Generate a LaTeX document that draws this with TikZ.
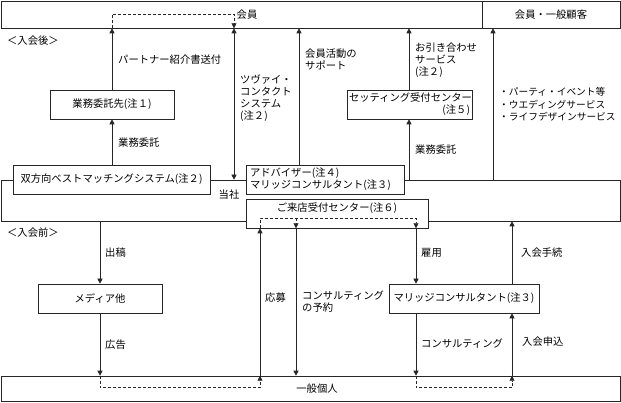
\documentclass[tikz,border=0pt]{standalone}
\usepackage{fontspec}
\setmainfont{Noto Sans CJK JP}
\usepackage{tikz}
\usetikzlibrary{arrows.meta}
\usetikzlibrary{positioning}
\tikzset{
plain box/.style = { rectangle, draw = black!85, fill = white, line width = 0.6pt, inner sep = 0pt, minimum height = 29pt },
flow/.style = { draw = black!85, line width = 0.6pt, -{Triangle[width = 5pt, length = 5pt]} },
both flow/.style = { flow, {Triangle[width = 5pt, length = 5pt]}-{Triangle[width = 5pt, length = 5pt]} },
dash flow/.style = { flow, dash pattern = on 3pt off 2pt },
tag/.style = { anchor = west, inner sep = 0pt, align = left },
}

\begin{document}
\begin{tikzpicture}[x = 1pt, y = -1pt, font = \fontsize{10.3}{12}\selectfont]
      \useasboundingbox (0, 0) rectangle (621, 403);
      \node[plain box, minimum width = 619pt, minimum height = 41pt] (tosha) at (310.5, 200.5) {};
      \node[plain box, minimum width = 481pt, minimum height = 27pt] (kaiin) at (241.5, 14.5) {\hspace*{11pt}会員};
      \node[plain box, minimum width = 138pt, minimum height = 27pt] (kokyaku) at (551, 14.5) {会員・一般顧客};
      \node[plain box, minimum width = 619pt, minimum height = 25pt] (ippan) at (310.5, 388.5) {\hspace*{13pt}一般個人};
      \node[plain box, minimum width = 124pt] (itaku) at (112, 104.5) {業務委託先(注１)};
      \node[plain box, minimum width = 125pt, text width = 121pt, align = right] (setting) at (409.5, 104.5) {セッティング受付センター\\(注５)};
      \node[plain box, minimum width = 197pt] (sohoko) at (111.5, 179.5) {双方向ベストマッチングシステム(注２)};
      \node[plain box, minimum width = 158pt, text width = 150pt, align = left] (advisor) at (325, 179.5) {アドバイザー(注４)\\マリッジコンサルタント(注３)};
      \node[plain box, minimum width = 182pt, text height = 8pt, text depth = 11pt] (raiten) at (337, 213.5) {ご来店受付センター(注６)};
      \node[plain box, minimum width = 124pt] (media) at (100, 298.5) {メディア他};
      \node[plain box, minimum width = 150pt] (marriage) at (464, 298.5) {マリッジコンサルタント(注３)};

      \coordinate (twoway) at (234, 0);
      \coordinate (support) at (299, 0);
      \coordinate (meet) at (409, 0);
      \coordinate (party) at (493, 0);
      \coordinate (apply) at (260, 0);
      \coordinate (reserve) at (296, 0);
      \coordinate (hire) at (416, 0);
      \coordinate (join) at (512, 0);

      \draw[flow] (itaku.north) -- (itaku.north |- kaiin.south);
      \draw[flow] (itaku.south |- sohoko.north) -- (itaku.south);
      \draw[both flow] (twoway |- kaiin.south) -- (twoway |- tosha.north);
      \draw[flow] (support |- advisor.north) -- (support |- kaiin.south);
      \draw[flow] (meet |- setting.north) -- (meet |- kaiin.south);
      \draw[flow] (meet |- tosha.north) -- (meet |- setting.south);
      \draw[flow] (party |- tosha.north) -- (party |- kokyaku.south);
      \draw[flow] (media.north |- tosha.south) -- (media.north);
      \draw[flow] (media.south) -- (media.south |- ippan.north);
      \draw[flow] (apply |- ippan.north) -- (apply |- raiten.south);
      \draw[flow] (reserve |- raiten.south) -- (reserve |- ippan.north);
      \draw[flow] (hire |- raiten.south) -- (hire |- marriage.north);
      \draw[flow] (hire |- marriage.south) -- (hire |- ippan.north);
      \draw[flow] (join |- marriage.north) -- (join |- tosha.south);
      \draw[flow] (join |- ippan.north) -- (join |- marriage.south);

      \draw[dash flow] (itaku.north |- kaiin.south) -- ++(0, -14) -| (twoway |- kaiin.south);
      \draw[dash flow] (apply |- raiten.south) -- ++(0, -10) -| (hire |- raiten.south);
      \draw[dash flow] ([yshift = 10pt]reserve |- raiten.south) -- (reserve |- raiten.south);
      \draw[dash flow] (media.south |- ippan.north) -- ++(0, 12) -| (apply |- ippan.north);
      \draw[dash flow] (hire |- ippan.north) -- ++(0, 12) -| (join |- ippan.north);

      \node[tag] (partnertag) at (118, 60) {パートナー紹介書送付};
      \node[tag] (itakutag) at (118, 143) {業務委託};
      \node[tag] (twowaytag) at (240, 98) {ツヴァイ・\\コンタクト\\システム\\(注２)};
      \node[tag] (supporttag) at (305, 59) {会員活動の\\サポート};
      \node[tag] (meettag) at (415, 60) {お引き合わせ\\サービス\\(注２)};
      \node[tag, font = \fontsize{9.7}{12.5}\selectfont] (partytag) at (499, 104.5) {・パーティ・イベント等\\・ウエディングサービス\\・ライフデザインサービス};
      \node[tag] (settingtag) at (415, 150) {業務委託};
      \node (toshatag) at (229, 195) {当社};
      \node[tag] (aftertag) at (7, 41) {＜入会後＞};
      \node[tag] (beforetag) at (7, 233) {＜入会前＞};
      \node[tag] (placetag) at (105, 253) {出稿};
      \node[tag] (adtag) at (105, 345) {広告};
      \node[tag] (applytag) at (265, 298) {応募};
      \node[tag] (reservetag) at (302, 301.5) {コンサルティング\\の予約};
      \node[tag] (hiretag) at (421, 253) {雇用};
      \node[tag] (jointag) at (521, 253) {入会手続};
      \node[tag] (consulttag) at (421, 344) {コンサルティング};
      \node[tag] (requesttag) at (522, 342) {入会申込};
\end{tikzpicture}
\end{document}
